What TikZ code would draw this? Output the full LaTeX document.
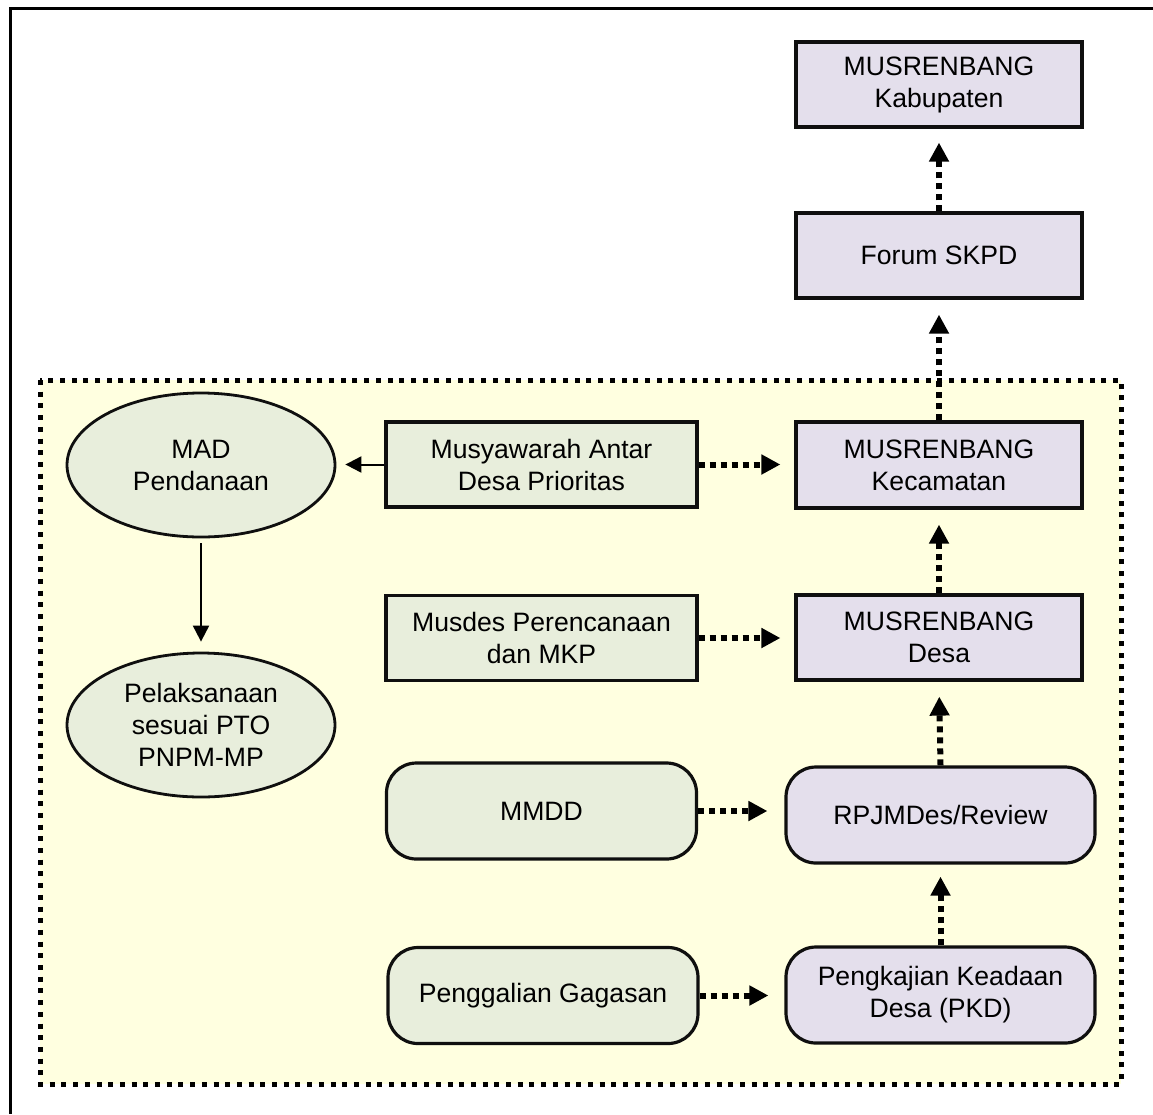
\documentclass[tikz,border=0pt]{standalone}
\usepackage{fontspec}
\setmainfont{Liberation Sans}
\usetikzlibrary{shapes.geometric,arrows.meta}
\definecolor{lav}{RGB}{228,223,236}
\definecolor{grn}{RGB}{232,238,220}
\definecolor{ylw}{RGB}{255,255,224}
\definecolor{edge}{RGB}{15,15,15}
\begin{document}
\begin{tikzpicture}[x=1pt,y=-1pt,
  font=\fontsize{26.6}{32}\selectfont,
  base/.style={draw=edge,line width=3.2pt,align=center,inner sep=0pt},
  lavbox/.style={base,fill=lav,rectangle,minimum width=286pt,minimum height=85pt},
  grnbox/.style={base,fill=grn,rectangle,minimum width=311pt,minimum height=85pt},
  lavround/.style={base,fill=lav,rectangle,rounded corners=30pt,minimum width=309pt,minimum height=96pt},
  grnround/.style={base,fill=grn,rectangle,rounded corners=30pt,minimum width=310pt,minimum height=96pt},
  oval/.style={base,line width=2.8pt,fill=grn,ellipse,minimum width=268pt,minimum height=144pt},
  darrow/.style={line width=6pt,dash pattern=on 6pt off 5pt,-{Triangle[length=19pt,width=19pt]}},
  tarrow/.style={line width=2pt,-{Triangle[length=16pt,width=16pt]}}
]
\useasboundingbox (0,0) rectangle (1153,1114);
% outer frame (only left and top visible)
\draw[line width=3pt] (1153,8.5) -- (10,8.5) -- (10,1114);
% dotted region
\draw[fill=ylw,line width=5pt,dash pattern=on 5pt off 6.7pt] (40,380) rectangle (1121,1084);

% right column
\node[lavbox] (kab) at (939,84.5) {MUSRENBANG\\Kabupaten};
\node[lavbox] (skpd) at (939,255.5) {Forum SKPD};
\node[lavbox,minimum height=86pt] (kec) at (939,465) {MUSRENBANG\\Kecamatan};
\node[lavbox] (desa) at (939,637.5) {MUSRENBANG\\Desa};
\node[lavround] (rpj) at (940.5,815) {RPJMDes/Review};
\node[lavround] (pkd) at (940.5,995) {Pengkajian Keadaan\\Desa (PKD)};

% middle column
\node[grnbox] (mad2) at (541.5,464.5) {Musyawarah Antar\\Desa Prioritas};
\node[grnbox] (musdes) at (541.5,638) {Musdes Perencanaan\\dan MKP};
\node[grnround] (mmdd) at (541.5,811) {MMDD};
\node[grnround] (gali) at (543,995.5) {Penggalian Gagasan};

% left column
\node[oval] (madp) at (201,465) {MAD\\Pendanaan};
\node[oval] (pel) at (201,725) {Pelaksanaan\\sesuai PTO\\PNPM-MP};

% vertical dotted arrows
\draw[darrow,shorten >=14pt] (skpd.north) -- (kab.south);
\draw[darrow,shorten >=15pt] (kec.north) -- (skpd.south);
\draw[darrow,shorten >=15pt] (desa.north) -- (kec.south);
\draw[darrow,shorten >=15pt] (rpj.north) -- (desa.south);
\draw[darrow,shorten >=12pt] (pkd.north) -- (rpj.south);

% horizontal dotted arrows
\draw[darrow,shorten >=14pt] (mad2.east) -- (kec.west |- mad2.east);
\draw[darrow,shorten >=14pt] (musdes.east) -- (desa.west |- musdes.east);
\draw[darrow,shorten >=17pt] (mmdd.east) -- (rpj.west |- mmdd.east);
\draw[darrow,shorten >=16pt] (gali.east) -- (pkd.west |- gali.east);

% thin arrows
\draw[tarrow,shorten >=9pt] (mad2.west) -- (madp.east |- mad2.west);
\draw[tarrow,shorten <=5pt,shorten >=10pt] (madp.south) -- (pel.north);
\end{tikzpicture}
\end{document}
